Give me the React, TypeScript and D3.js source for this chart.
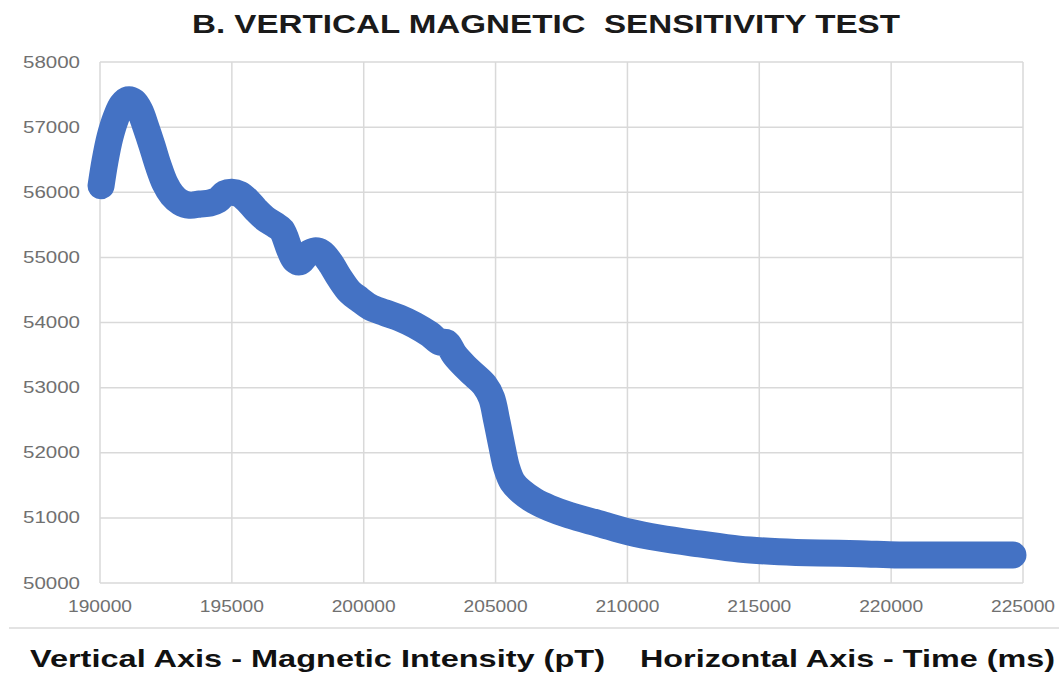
import React from "react";
import * as d3 from "d3";

const title = "B. VERTICAL MAGNETIC  SENSITIVITY TEST";
const footLeft = "Vertical Axis - Magnetic Intensity (pT)";
const footRight = "Horizontal Axis - Time (ms)";

const xTicks = [190000, 195000, 200000, 205000, 210000, 215000, 220000, 225000];
const yTicks = [50000, 51000, 52000, 53000, 54000, 55000, 56000, 57000, 58000];

const timeMs = [
  190040, 190190, 190380, 190610, 190830, 191060, 191290, 191515, 191740, 191970,
  192200, 192460, 192730, 193030, 193410, 193790, 194170, 194470, 194735, 195000,
  195300, 195600, 195910, 196250, 196630, 196890, 197200, 197390, 197580, 197840,
  198140, 198410, 198710, 199090, 199470, 199850, 200230, 200800, 201360, 201930,
  202500, 202880, 203140, 203450, 203830, 204200, 204580, 204850, 205040, 205230,
  205420, 205640, 205990, 206480, 207050, 207800, 208940, 210080, 211210, 212730,
  214240, 215760, 217270, 218790, 220300, 222200, 224620,
];
const intensity = [
  56100, 56480, 56850, 57150, 57340, 57420, 57390, 57250, 57000, 56720,
  56420, 56140, 55960, 55850, 55800, 55820, 55835, 55880, 55980, 56000,
  55970, 55870, 55730, 55600, 55500, 55420, 55110, 54960, 54930, 55040,
  55100, 55070, 54930, 54680, 54470, 54350, 54240, 54150, 54070, 53960,
  53820, 53700, 53690, 53500, 53330, 53190, 53040, 52840, 52500, 52120,
  51770, 51550, 51400, 51260, 51150, 51040, 50910, 50780, 50690, 50600,
  50520, 50480, 50460, 50450, 50430, 50430, 50430,
];

export default function App() {
  const W = 1059;
  const H = 674;
  const left = 100;
  const right = 1023;
  const top = 62;
  const bottom = 583;

  const x = d3.scaleLinear().domain([190000, 225000]).range([left, right]);
  const y = d3.scaleLinear().domain([50000, 58000]).range([bottom, top]);

  const pts: [number, number][] = timeMs.map((t, i) => [t, intensity[i]]);
  const line = d3
    .line<[number, number]>()
    .x((d) => x(d[0]))
    .y((d) => y(d[1]))
    .curve(d3.curveCatmullRom.alpha(0.5));

  const grid = "#d9d9d9";
  const tickColor = "#707070";
  const font = "'Liberation Sans', Arial, sans-serif";

  return (
    <svg
      width={W}
      height={H}
      style={{ position: "absolute", left: 0, top: 0, background: "#fff" }}
      fontFamily={font}
    >
      <rect x={0} y={0} width={W} height={H} fill="#fff" />
      <text
        x={192}
        y={33}
        fontSize={25}
        fontWeight="bold"
        fill="#1a1a1a"
        textLength={708}
        lengthAdjust="spacingAndGlyphs"
        style={{ whiteSpace: "pre" }}
      >
        {title}
      </text>

      {yTicks.map((v) => (
        <line key={"h" + v} x1={left} x2={right} y1={y(v)} y2={y(v)} stroke={grid} strokeWidth={1.5} />
      ))}
      {xTicks.map((v) => (
        <line key={"v" + v} x1={x(v)} x2={x(v)} y1={top} y2={bottom} stroke={grid} strokeWidth={1.5} />
      ))}

      {yTicks.map((v) => (
        <text
          key={"yl" + v}
          x={80}
          y={y(v)}
          dy="0.35em"
          textAnchor="end"
          fontSize={16}
          fill={tickColor}
          textLength={57}
          lengthAdjust="spacingAndGlyphs"
        >
          {v}
        </text>
      ))}
      {xTicks.map((v) => (
        <text
          key={"xl" + v}
          x={x(v)}
          y={612}
          textAnchor="middle"
          fontSize={16}
          fill={tickColor}
          textLength={64}
          lengthAdjust="spacingAndGlyphs"
        >
          {v}
        </text>
      ))}

      <path
        d={line(pts) || ""}
        fill="none"
        stroke="#4472C4"
        strokeWidth={27}
        strokeLinecap="round"
        strokeLinejoin="round"
      />

      <line x1={9} x2={W} y1={628} y2={628} stroke="#e3e3e3" strokeWidth={2} />

      <text
        x={30}
        y={667}
        fontSize={24}
        fontWeight="bold"
        fill="#111"
        textLength={575}
        lengthAdjust="spacingAndGlyphs"
      >
        {footLeft}
      </text>
      <text
        x={640}
        y={667}
        fontSize={24}
        fontWeight="bold"
        fill="#111"
        textLength={415}
        lengthAdjust="spacingAndGlyphs"
      >
        {footRight}
      </text>
    </svg>
  );
}
